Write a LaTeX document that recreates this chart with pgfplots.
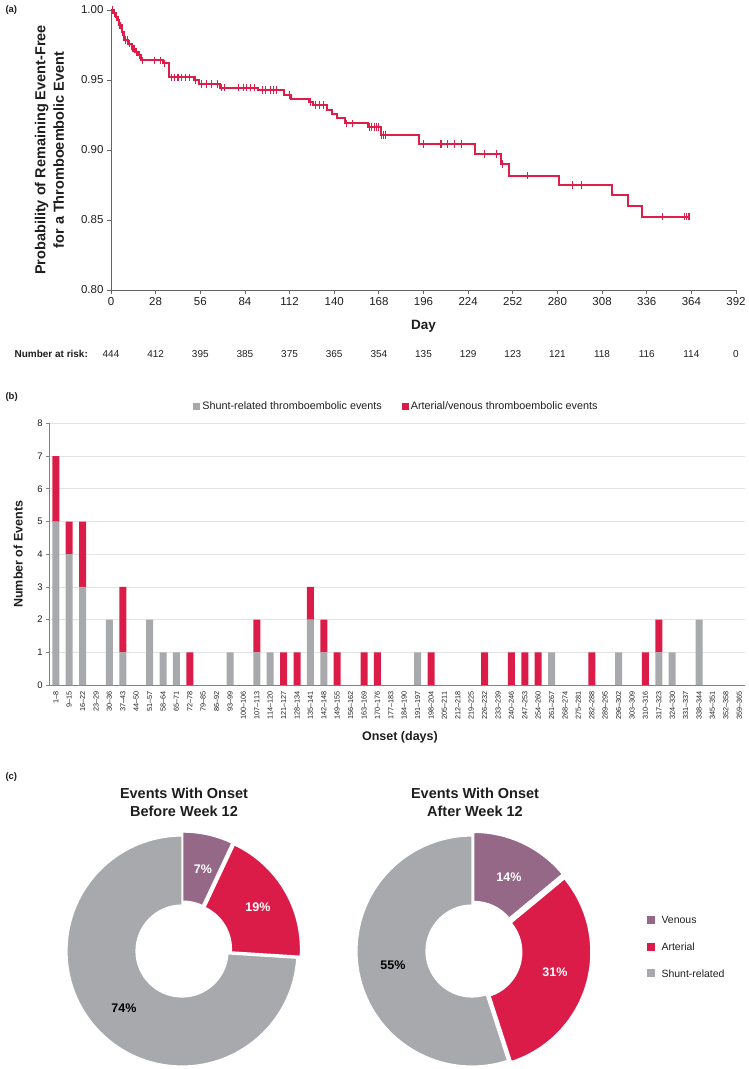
\documentclass[border=0pt]{standalone}
\usepackage{fontspec}
\setmainfont{Liberation Sans}
\usepackage{pgfplots}
\usepackage{pgfplotstable}
\pgfplotsset{compat=1.18}
\usetikzlibrary{calc}

\definecolor{kmred}{RGB}{222,30,72}
\definecolor{barred}{RGB}{220,28,72}
\definecolor{bargray}{RGB}{167,169,172}
\definecolor{venous}{RGB}{150,104,136}
\definecolor{gridc}{RGB}{228,228,228}
\definecolor{axc}{RGB}{100,100,100}
\definecolor{txt}{RGB}{30,30,30}
\newcommand{\fs}[1]{\fontsize{#1}{#1}\selectfont}

% Kaplan-Meier steps (day, probability)
\pgfplotstableread{
day surv
0 1.000
1.6 0.9976
3.1 0.995
4.1 0.993
5.1 0.989
6.8 0.984
8.2 0.9785
10.9 0.976
12.9 0.9725
15.0 0.970
17.1 0.968
19.1 0.964
32.5 0.9618
36.6 0.9518
52.0 0.9498
55.2 0.947
68.5 0.9446
92.2 0.9427
108.7 0.9395
112.8 0.9367
124.0 0.9343
126.5 0.932
135.5 0.9283
138.5 0.926
141.6 0.9231
146.8 0.919
161.2 0.9164
169.4 0.9109
193.1 0.9044
228.1 0.8973
244.6 0.890
249.7 0.8817
281.2 0.875
314.0 0.868
324.5 0.860
333.1 0.8525
363.0 0.8525
}\kmcurve

% censored observations
\pgfplotstableread{
day surv
1.0 1.0
2.2 0.9976
3.5 0.995
4.5 0.993
5.6 0.989
6.2 0.989
7.4 0.984
9.2 0.9785
10.2 0.9785
11.8 0.976
13.6 0.9725
14.4 0.9725
16.0 0.970
18.0 0.968
20.0 0.964
27.5 0.964
31.0 0.964
33.5 0.9618
38 0.9518
40 0.9518
42 0.9518
44 0.9518
46.5 0.9518
49 0.9518
53 0.9498
57 0.947
60 0.947
63 0.947
67 0.947
69.5 0.9446
71 0.9446
80 0.9446
83 0.9446
85 0.9446
87.5 0.9446
90 0.9446
95 0.9427
97 0.9427
100 0.9427
102 0.9427
104 0.9427
112 0.9395
125 0.9343
128 0.932
130.5 0.932
133 0.932
147.5 0.919
151.5 0.919
162 0.9164
163.5 0.9164
165 0.9164
166.5 0.9164
168 0.9164
169.5 0.9109
171 0.9109
172 0.9109
196 0.9044
207 0.9044
211 0.9044
215.5 0.9044
220 0.9044
234.5 0.8973
242 0.8973
245.5 0.890
261.5 0.8817
289.5 0.875
295 0.875
346 0.8525
359.5 0.8525
361 0.8525
362.5 0.8525
}\kmcensor

% events per onset week
\pgfplotstableread{
idx shunt art
0 5 2
1 4 1
2 3 2
3 0 0
4 2 0
5 1 2
6 0 0
7 2 0
8 1 0
9 1 0
10 0 1
11 0 0
12 0 0
13 1 0
14 0 0
15 1 1
16 1 0
17 0 1
18 0 1
19 2 1
20 1 1
21 0 1
22 0 0
23 0 1
24 0 1
25 0 0
26 0 0
27 1 0
28 0 1
29 0 0
30 0 0
31 0 0
32 0 1
33 0 0
34 0 1
35 0 1
36 0 1
37 1 0
38 0 0
39 0 0
40 0 1
41 0 0
42 1 0
43 0 0
44 0 1
45 1 1
46 1 0
47 0 0
48 2 0
49 0 0
50 0 0
51 0 0
}\events

% donut slice: cx, cy, start angle, end angle, outer r, inner r, colour, explode offset
\newcommand{\slice}[8]{%
  \fill[#7, draw=white, line width=1.2pt]
    ($(axis cs:#1,#2)+(#8)+(#3:#5)$) arc[start angle=#3, end angle=#4, radius=#5]
    -- ($(axis cs:#1,#2)+(#8)+(#4:#6)$) arc[start angle=#4, end angle=#3, radius=#6] -- cycle;}

\begin{document}
\begin{tikzpicture}
\useasboundingbox (0,0) rectangle (749pt,-1069pt);

% ---------------- panel (a)
\node[anchor=west, font=\bfseries\fs{9.5}, text=txt] at (2pt,-10pt) {(a)};
\begin{axis}[
  at={(111pt,-290pt)}, anchor=south west,
  scale only axis, width=625pt, height=280pt,
  xmin=0, xmax=392, ymin=0.8, ymax=1.0,
  axis lines=left, axis line style={-, draw=axc, line width=0.8pt},
  xtick={0,28,56,84,112,140,168,196,224,252,280,308,336,364,392},
  ytick={0.80,0.85,0.90,0.95,1.00},
  yticklabel style={/pgf/number format/.cd, fixed, fixed zerofill, precision=2},
  /pgf/number format/assume math mode=true,
  tick label style={font=\fs{11.5}, text=txt},
  tick style={draw=axc, line width=0.8pt},
  tick align=outside, major tick length=4pt,
  xlabel={Day},
  xlabel style={font=\bfseries\fs{13.5}, text=txt, at={(axis description cs:0.5,-0.1286)}, anchor=center},
  ylabel={Probability of Remaining Event-Free\\for a Thromboembolic Event},
  ylabel style={font=\bfseries\fontsize{14.5}{18.5}\selectfont, text=txt, align=center,
    at={(axis description cs:-0.0984,0.5)}, anchor=center},
  clip=false,
]
\addplot[const plot, color=kmred, draw=kmred, line width=2pt, mark=none] table[x=day, y=surv] {\kmcurve};
\addplot[only marks, mark=|, mark size=3.8pt, color=kmred, mark options={draw=kmred, line width=1.1pt}] table[x=day, y=surv] {\kmcensor};
\end{axis}
\node[anchor=west, font=\bfseries\fs{10}, text=txt] at (11pt,-354.3pt) {Number at risk:};
\foreach \d/\n in {0/444,28/412,56/395,84/385,112/375,140/365,168/354,196/135,224/129,252/123,280/121,308/118,336/116,364/114,392/0}
  \node[font=\fs{10}, text=txt] at ({111pt+\d*1.59439pt},-354.3pt) {\n};

% ---------------- panel (b)
\node[anchor=west, font=\bfseries\fs{9.5}, text=txt] at (2pt,-397pt) {(b)};
\begin{axis}[
  at={(49.3pt,-685pt)}, anchor=south west,
  scale only axis, width=695.7pt, height=261.6pt,
  ybar stacked, bar width=7pt,
  xmin=-0.485, xmax=51.43, ymin=0, ymax=8,
  axis lines=left, axis line style={-, draw=axc!80, line width=0.7pt},
  ytick={0,1,2,3,4,5,6,7,8},
  ymajorgrids, grid style={gridc, line width=0.7pt},
  xtick={0,...,51},
  xticklabels={1--8,9--15,16--22,23--29,30--36,37--43,44--50,51--57,58--64,65--71,72--78,79--85,86--92,93--99,100--106,107--113,114--120,121--127,128--134,135--141,142--148,149--155,156--162,163--169,170--176,177--183,184--190,191--197,198--204,205--211,212--218,219--225,226--232,233--239,240--246,247--253,254--260,261--267,268--274,275--281,282--288,289--295,296--302,303--309,310--316,317--323,324--330,331--337,338--344,345--351,352--358,359--365},
  x tick label style={rotate=90, anchor=east, font=\fs{7.3}, text=txt},
  y tick label style={font=\fs{9.5}, text=txt},
  /pgf/number format/assume math mode=true,
  xtick style={draw=none},
  ytick style={draw=axc!80, line width=0.7pt},
  tick align=outside, major tick length=3pt,
  xlabel={Onset (days)},
  xlabel style={font=\bfseries\fs{12.5}, text=txt, at={(axis description cs:0.504,-0.199)}, anchor=center},
  ylabel={Number of Events},
  ylabel style={font=\bfseries\fs{12.5}, text=txt, at={(axis description cs:-0.0446,0.5)}, anchor=center},
  legend style={at={(axis description cs:0.499,1.0665)}, anchor=center, draw=none, fill=none,
    legend columns=2, font=\fs{10.8}, text=txt,
    /tikz/every even column/.append style={column sep=18pt}},
  legend image code/.code={\fill[#1] (0pt,-3.5pt) rectangle (7pt,3.5pt);},
]
\addplot[fill=bargray, draw=none] table[x=idx, y=shunt] {\events};
\addlegendentry{Shunt-related thromboembolic events}
\addplot[fill=barred, draw=none] table[x=idx, y=art] {\events};
\addlegendentry{Arterial/venous thromboembolic events}
\end{axis}

% ---------------- panel (c)
\node[anchor=west, font=\bfseries\fs{9.5}, text=txt] at (2pt,-777pt) {(c)};
\begin{axis}[
  at={(0pt,-1069pt)}, anchor=south west,
  x=1pt, y=1pt, xmin=0, xmax=749, ymin=0, ymax=309,
  hide axis, clip=false,
]
% before week 12: venous 7%, arterial 19%, shunt 74%
\slice{182}{118}{-3.6}{-270}{115pt}{46pt}{bargray}{0:0pt}
\slice{182}{118}{90}{64.8}{115pt}{46pt}{venous}{77.4:4pt}
\slice{182}{118}{64.8}{-3.6}{115pt}{46pt}{barred}{30.6:4pt}
% after week 12: venous 14%, arterial 31%, shunt 55%
\slice{472}{118}{-72}{-270}{115pt}{46pt}{bargray}{0:0pt}
\slice{472}{118}{90}{39.6}{115pt}{46pt}{venous}{64.8:4pt}
\slice{472}{118}{39.6}{-72}{115pt}{46pt}{barred}{-16.2:4pt}

\node[font=\bfseries\fs{12.5}, text=white] at (axis cs:203,200) {7\%};
\node[font=\bfseries\fs{12.5}, text=white] at (axis cs:258,162) {19\%};
\node[font=\bfseries\fs{12.5}, text=black] at (axis cs:124,61) {74\%};
\node[font=\bfseries\fs{12.5}, text=white] at (axis cs:509,192) {14\%};
\node[font=\bfseries\fs{12.5}, text=white] at (axis cs:555,97) {31\%};
\node[font=\bfseries\fs{12.5}, text=black] at (axis cs:393,104) {55\%};

\node[font=\bfseries\fontsize{14.5}{18.5}\selectfont, text=txt, align=center] at (axis cs:184,266.5) {Events With Onset\\Before Week 12};
\node[font=\bfseries\fontsize{14.5}{18.5}\selectfont, text=txt, align=center] at (axis cs:475,266.5) {Events With Onset\\After Week 12};

\fill[venous] (axis cs:647,145) rectangle (axis cs:655,153);
\fill[barred] (axis cs:647,118.3) rectangle (axis cs:655,126.3);
\fill[bargray] (axis cs:647,91.7) rectangle (axis cs:655,99.7);
\node[anchor=west, font=\fs{10.5}, text=txt] at (axis cs:658,149) {Venous};
\node[anchor=west, font=\fs{10.5}, text=txt] at (axis cs:658,122.3) {Arterial};
\node[anchor=west, font=\fs{10.5}, text=txt] at (axis cs:658,95.7) {Shunt-related};
\end{axis}
\end{tikzpicture}
\end{document}
